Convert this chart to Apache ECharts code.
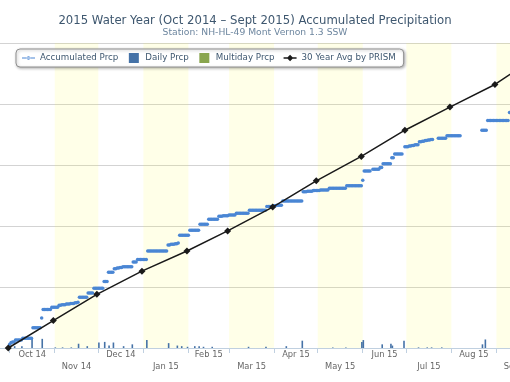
<!DOCTYPE html>
<html><head><meta charset="utf-8">
<script src="https://cdn.jsdelivr.net/npm/echarts@6/dist/echarts.min.js"></script>
<style>html,body{margin:0;padding:0;background:#fff}#c{width:510px;height:382px}</style>
</head><body><div id="c"></div>
<script>
const titleText = '2015 Water Year (Oct 2014 – Sept 2015) Accumulated Precipitation';
const subtitleText = 'Station: NH-HL-49 Mont Vernon 1.3 SSW';
const seriesNames = ['Accumulated Prcp', 'Daily Prcp', 'Multiday Prcp', '30 Year Avg by PRISM'];

const monthStarts = ['2014-10-01','2014-11-01','2014-12-01','2015-01-01','2015-02-01','2015-03-01',
  '2015-04-01','2015-05-01','2015-06-01','2015-07-01','2015-08-01','2015-09-01','2015-10-01'];
const tickLabels = ['Oct 14','Nov 14','Dec 14','Jan 15','Feb 15','Mar 15','Apr 15','May 15','Jun 15','Jul 15','Aug 15','Sep 15'];
const shadedMonths = [1,3,5,7,9,11];

// accumulated precipitation (inches), one value per day of each month
const accOct = [0.6,0.9,1.0,1.0,1.3,1.3,1.3,1.3,1.3,1.6,1.6,1.6,1.6,1.6,1.6,1.6,3.3,3.3,3.3,3.3,3.3,3.3,4.9,6.3,6.3,6.3,6.3,6.3,6.3,6.7,6.7];
const accNov = [6.7,6.7,6.7,7.0,7.0,7.1,7.1,7.1,7.2,7.2,7.2,7.3,7.3,7.3,7.4,7.4,7.5,8.3,8.3,8.3,8.3,8.3,8.3,9.0,9.0,9.0,9.0,9.8,9.8,9.8];
const accDec = [9.8,9.8,9.8,9.8,10.9,10.9,10.9,12.4,12.4,12.4,12.4,13.0,13.0,13.1,13.1,13.2,13.2,13.3,13.3,13.3,13.3,13.3,13.3,13.3,14.1,14.1,14.1,14.5,14.5,14.5,14.5];
const accJan = [14.5,14.5,14.5,15.9,15.9,15.9,15.9,15.9,15.9,15.9,15.9,15.9,15.9,15.9,15.9,15.9,15.9,16.9,16.9,17.0,17.0,17.0,17.1,17.1,17.2,18.5,18.5,18.5,18.5,18.5,18.5];
const accFeb = [18.5,19.3,19.3,19.3,19.3,19.3,19.3,19.3,20.3,20.3,20.3,20.3,20.3,20.3,21.1,21.1,21.1,21.1,21.1,21.1,21.1,21.6,21.6,21.6,21.7,21.7,21.7,21.7];
const accMar = [21.8,21.8,21.8,21.8,21.8,22.1,22.1,22.1,22.1,22.1,22.1,22.1,22.1,22.1,22.6,22.6,22.6,22.6,22.6,22.6,22.6,22.6,22.6,22.6,22.6,22.6,23.2,23.2,23.2,23.2,23.2];
const accApr = [23.3,23.3,23.4,23.4,23.4,23.4,24.1,24.1,24.1,24.1,24.1,24.1,24.1,24.1,24.1,24.1,24.1,24.1,24.1,24.1,25.6,25.6,25.6,25.7,25.7,25.7,25.7,25.8,25.8,25.8];
const accMay = [25.8,25.8,25.9,25.9,25.9,25.9,25.9,25.9,26.2,26.2,26.2,26.2,26.2,26.2,26.2,26.2,26.2,26.2,26.2,26.2,26.6,26.6,26.6,26.6,26.6,26.6,26.6,26.6,26.6,26.6,26.6];
const accJun = [27.5,29.0,29.0,29.0,29.0,29.0,null,29.3,29.3,29.3,29.3,29.3,29.6,29.6,30.2,30.2,30.2,30.2,30.2,30.2,31.2,31.2,31.8,31.8,31.8,31.8,31.8,31.8,null,33.0];
const accJul = [33.0,33.0,33.1,33.1,33.2,33.2,33.3,33.3,33.3,33.8,33.8,33.9,33.9,34.0,34.0,34.1,34.1,34.2,34.2,null,null,null,34.4,34.4,34.4,34.4,34.4,34.4,34.8,34.8,34.8];
const accAug = [34.8,34.8,34.8,34.8,34.8,34.8,34.8,null,null,null,null,null,null,null,null,null,null,null,null,null,null,35.7,35.7,35.7,35.7,37.3,37.3,37.3,37.3,37.3,37.3];
const accSep = [37.3,37.3,37.3,37.3,37.3,37.3,37.3,37.3,37.3,38.6];
const accByMonth = [accOct,accNov,accDec,accJan,accFeb,accMar,accApr,accMay,accJun,accJul,accAug,accSep];

// daily precipitation (inches)
const dailyPrcp = [
  ['2014-10-01',0.5],['2014-10-02',0.3],['2014-10-05',0.3],['2014-10-10',0.3],['2014-10-17',1.5],['2014-10-24',1.5],
  ['2014-11-02',0.1],['2014-11-07',0.1],['2014-11-13',0.1],['2014-11-18',0.7],['2014-11-24',0.3],
  ['2014-12-02',0.9],['2014-12-06',1.0],['2014-12-09',0.4],['2014-12-12',0.9],['2014-12-19',0.3],['2014-12-25',0.6],
  ['2015-01-04',1.3],['2015-01-19',0.8],['2015-01-25',0.4],['2015-01-28',0.3],
  ['2015-02-01',0.2],['2015-02-06',0.3],['2015-02-09',0.3],['2015-02-12',0.2],['2015-02-18',0.2],
  ['2015-03-15',0.2],['2015-03-27',0.2],['2015-04-10',0.3],['2015-04-21',1.2],
  ['2015-05-12',0.1],['2015-05-21',0.1],['2015-06-01',1.0],['2015-06-02',1.3],['2015-06-15',0.6],['2015-06-21',0.7],['2015-06-22',0.4],
  ['2015-06-30',1.2],['2015-07-10',0.1],['2015-07-16',0.1],['2015-07-19',0.1],['2015-07-26',0.1],
  ['2015-08-23',0.6],['2015-08-25',1.4]
];
const multidayPrcp = [];

// 30 year average by PRISM (month ends)
const avgDates = ['2014-09-30','2014-10-31','2014-11-30','2014-12-31','2015-01-31','2015-02-28','2015-03-31',
  '2015-04-30','2015-05-31','2015-06-30','2015-07-31','2015-08-31','2015-09-30'];
const avgValues = [0, 4.5, 8.8, 12.6, 15.9, 19.2, 23.1, 27.4, 31.4, 35.7, 39.5, 43.2, 48.0];

const DAY = 86400000;
const ts = s => { const [y,m,d] = s.split('-').map(Number); return Date.UTC(y, m-1, d); };
const tickTimes = monthStarts.map(ts);
const labelTimes = tickLabels.map((_, i) => (tickTimes[i] + tickTimes[i+1]) / 2);

const accData = [];
accByMonth.forEach((arr, m) => arr.forEach((v, i) => { if (v != null) accData.push([tickTimes[m] + i*DAY, v]); }));

const bands = shadedMonths.map(i => [{xAxis: tickTimes[i]}, {xAxis: tickTimes[i+1]}]);

const FONT = 'DejaVu Sans';
const ACC = '#4A86D4';
const sq = 'path://M0,0 M13,10 M1.5,0 L11.5,0 L11.5,10 L1.5,10 Z';
const chart = echarts.init(document.getElementById('c'), null, {renderer: 'canvas'});
chart.setOption({
  animation: false,
  backgroundColor: '#fff',
  title: [
    {text: titleText, left: 'center', top: 9, textStyle: {fontFamily: FONT, fontSize: 11.7, fontWeight: 'normal', color: '#3E576F', lineHeight: 14}},
    {text: subtitleText, left: 'center', top: 22, textStyle: {fontFamily: FONT, fontSize: 9.2, fontWeight: 'normal', color: '#6D869F', lineHeight: 11}}
  ],
  legend: {
    left: 16, top: 49, selectedMode: false,
    data: [
      {name: seriesNames[0], icon: 'path://M0,0 M13,10 M0,4.5 L13,4.5 L13,5.5 L0,5.5 Z M4.7,5 A1.8,1.8 0 1 0 8.3,5 A1.8,1.8 0 1 0 4.7,5 Z'},
      {name: seriesNames[1], icon: sq},
      {name: seriesNames[2], icon: sq},
      {name: seriesNames[3], icon: 'path://M0,0 M13,10 M0,4.3 L13,4.3 L13,5.7 L0,5.7 Z M6.5,1.8 L9.7,5 L6.5,8.2 L3.3,5 Z'}
    ],
    itemWidth: 13, itemHeight: 10, itemGap: 9,
    padding: [4, 8, 4, 6],
    backgroundColor: '#fff', borderColor: '#909090', borderWidth: 1, borderRadius: 4,
    shadowColor: 'rgba(0,0,0,0.3)', shadowBlur: 3, shadowOffsetX: 1, shadowOffsetY: 1,
    textStyle: {fontFamily: FONT, fontSize: 8.7, color: '#3E576F'}
  },
  grid: {left: 0, top: 43, width: 540, height: 305, containLabel: false, outerBoundsMode: 'none'},
  xAxis: {
    type: 'value',
    min: ts('2014-10-01') - 6.676*DAY,
    max: ts('2015-10-01'),
    axisLine: {show: true, onZero: false, lineStyle: {color: '#C0D0E0', width: 1}},
    axisTick: {show: true, customValues: tickTimes, length: 5, lineStyle: {color: '#C0D0E0'}},
    axisLabel: {
      customValues: labelTimes, margin: 3, hideOverlap: false, showMinLabel: true, showMaxLabel: true,
      fontFamily: FONT, fontSize: 8.3, color: '#666',
      formatter: v => { const i = labelTimes.indexOf(v); return i < 0 ? '' : (i % 2 === 0 ? '{a|' + tickLabels[i] + '}' : '{b|' + tickLabels[i] + '}'); },
      rich: {a: {fontFamily: FONT, fontSize: 8.3, color: '#666'}, b: {fontFamily: FONT, fontSize: 8.3, color: '#666', padding: [12, 0, 0, 0]}}
    },
    splitLine: {show: false}
  },
  yAxis: {
    type: 'value', min: 0, max: 50, interval: 10,
    axisLabel: {show: false}, axisLine: {show: false}, axisTick: {show: false},
    splitLine: {lineStyle: {color: '#D3D3D3', width: 1}}
  },
  series: [
    {
      name: seriesNames[1], type: 'bar', barWidth: 1.6, itemStyle: {color: '#4572A7'},
      data: dailyPrcp.map(([d, v]) => [ts(d), v]),
      markArea: {silent: true, itemStyle: {color: 'rgba(255,255,0,0.09)'}, data: bands}
    },
    {name: seriesNames[2], type: 'bar', barWidth: 1.6, itemStyle: {color: '#89A54E'}, data: multidayPrcp},
    {
      name: seriesNames[0], type: 'scatter', data: accData,
      symbol: 'circle', symbolSize: 3.5, itemStyle: {color: ACC, opacity: 1}
    },
    {
      name: seriesNames[3], type: 'line', data: avgDates.map((d, i) => [ts(d), avgValues[i]]),
      symbol: 'diamond', symbolSize: 7, itemStyle: {color: '#1a1a1a'}, lineStyle: {color: '#1a1a1a', width: 1.5}
    }
  ]
});
</script></body></html>
